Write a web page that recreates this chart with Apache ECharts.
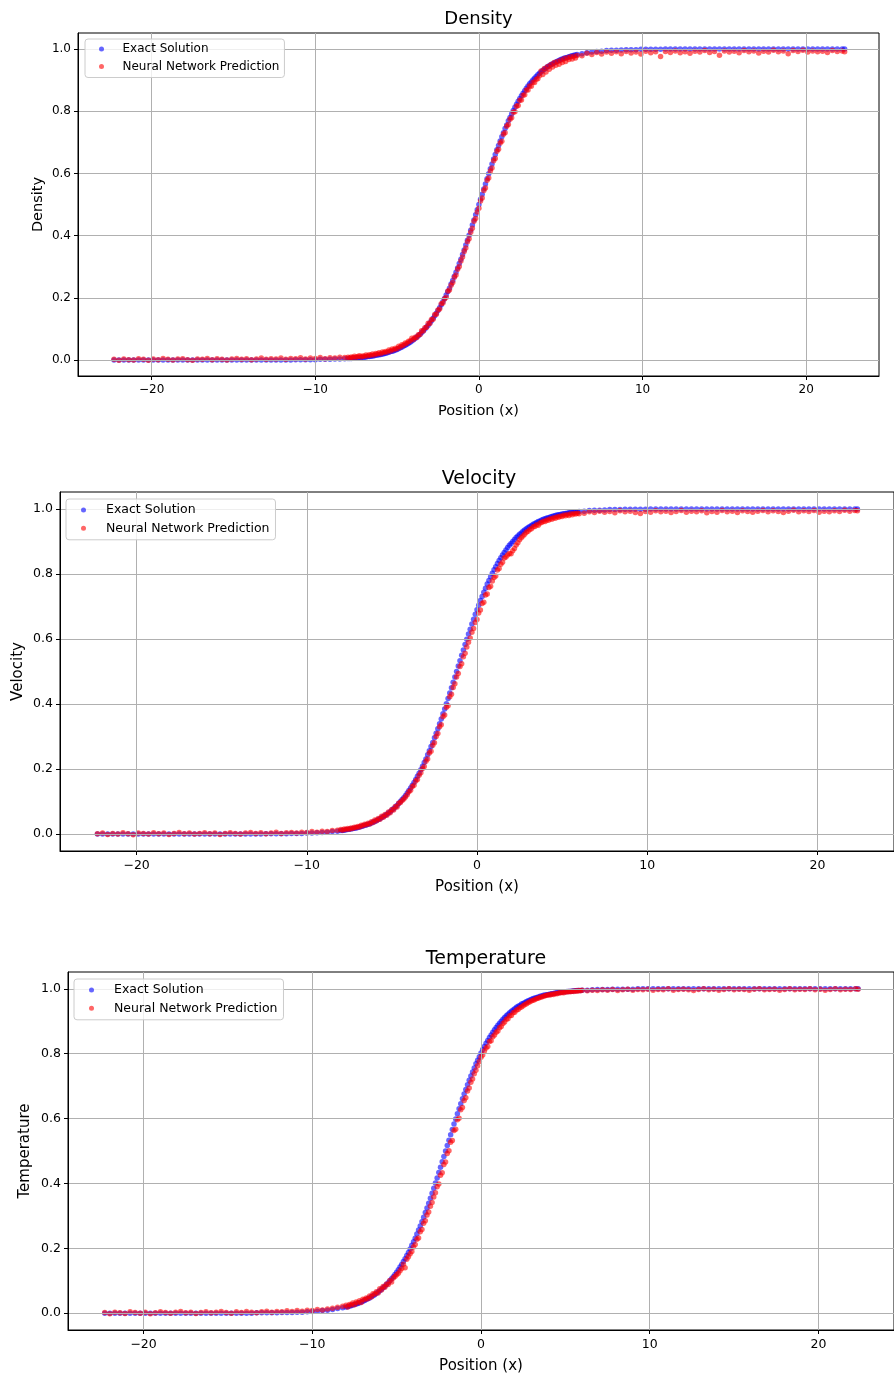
<!DOCTYPE html>
<html>
<head>
<meta charset="utf-8">
<script src="https://cdn.jsdelivr.net/npm/echarts@6.0.0/dist/echarts.min.js"></script>
<style>
html,body{margin:0;padding:0;background:#fff;}
#chart{width:894px;height:1375px;}
</style>
</head>
<body>
<div id="chart"></div>
<script>
// ---- data ----
const titles = ['Density', 'Velocity', 'Temperature'];
const seriesNames = ['Exact Solution', 'Neural Network Prediction'];
const xTicks = [-20, -10, 0, 10, 20];
const yTicks = [0, 0.2, 0.4, 0.6, 0.8, 1.0];

const positions = [
-22.3,-22.0,-21.7,-21.4,-21.1,-20.8,-20.5,-20.2,-19.9,-19.6,
-19.3,-19.0,-18.7,-18.4,-18.1,-17.8,-17.5,-17.2,-16.9,-16.6,
-16.3,-16.0,-15.7,-15.4,-15.1,-14.8,-14.5,-14.2,-13.9,-13.6,
-13.3,-13.0,-12.7,-12.4,-12.1,-11.8,-11.5,-11.2,-10.9,-10.6,
-10.3,-10.0,-9.7,-9.4,-9.1,-8.8,-8.5,-8.2,
-8.0,-7.9,-7.8,-7.7,-7.6,-7.5,-7.4,-7.3,-7.2,-7.1,
-7.0,-6.9,-6.8,-6.7,-6.6,-6.5,-6.4,-6.3,-6.2,-6.1,
-6.0,-5.9,-5.8,-5.7,-5.6,-5.5,-5.4,-5.3,-5.2,-5.1,
-5.0,-4.9,-4.8,-4.7,-4.6,-4.5,-4.4,-4.3,-4.2,-4.1,
-4.0,-3.9,-3.8,-3.7,-3.6,-3.5,-3.4,-3.3,-3.2,-3.1,
-3.0,-2.9,-2.8,-2.7,-2.6,-2.5,-2.4,-2.3,-2.2,-2.1,
-2.0,-1.9,-1.8,-1.7,-1.6,-1.5,-1.4,-1.3,-1.2,-1.1,
-1.0,-0.9,-0.8,-0.7,-0.6,-0.5,-0.4,-0.3,-0.2,-0.1,
0.0,0.1,0.2,0.3,0.4,0.5,0.6,0.7,0.8,0.9,
1.0,1.1,1.2,1.3,1.4,1.5,1.6,1.7,1.8,1.9,
2.0,2.1,2.2,2.3,2.4,2.5,2.6,2.7,2.8,2.9,
3.0,3.1,3.2,3.3,3.4,3.5,3.6,3.7,3.8,3.9,
4.0,4.1,4.2,4.3,4.4,4.5,4.6,4.7,4.8,4.9,
5.0,5.1,5.2,5.3,5.4,5.5,5.6,5.7,5.8,5.9,
6.0,
6.3,6.6,6.9,7.2,7.5,7.8,8.1,8.4,8.7,9.0,
9.3,9.6,9.9,10.2,10.5,10.8,11.1,11.4,11.7,12.0,
12.3,12.6,12.9,13.2,13.5,13.8,14.1,14.4,14.7,15.0,
15.3,15.6,15.9,16.2,16.5,16.8,17.1,17.4,17.7,18.0,
18.3,18.6,18.9,19.2,19.5,19.8,20.1,20.4,20.7,21.0,
21.3,21.6,21.9,22.2,22.35
];

const densityExact = [
0,0,0,0,0,0,0,0,0,0,
0,0,0,0,0,0,0,0,0,0,
0,0,0,0,0,0,0,0,0,0,
0,0,0,0,0,0,0,.001,.001,.001,
.001,.001,.002,.002,.002,.003,.003,.004,
.005,.005,.005,.006,.006,.007,.007,.008,.008,.009,
.009,.010,.011,.011,.012,.013,.014,.015,.016,.017,
.018,.019,.020,.022,.023,.025,.027,.028,.030,.032,
.034,.037,.039,.042,.045,.047,.051,.054,.057,.061,
.065,.069,.074,.078,.083,.088,.094,.100,.106,.112,
.119,.126,.134,.142,.150,.159,.168,.178,.187,.198,
.209,.220,.231,.244,.256,.269,.282,.296,.310,.324,
.339,.354,.370,.385,.401,.417,.434,.450,.467,.483,
.500,.517,.533,.550,.566,.583,.599,.615,.630,.646,
.661,.676,.690,.704,.718,.731,.744,.756,.769,.780,
.791,.802,.813,.822,.832,.841,.850,.858,.866,.874,
.881,.888,.894,.900,.906,.912,.917,.922,.926,.931,
.935,.939,.943,.946,.949,.953,.955,.958,.961,.963,
.966,.968,.970,.972,.973,.975,.977,.978,.980,.981,
.982,
.985,.988,.990,.992,.993,.995,.996,.996,.997,.998,
.998,.998,.999,.999,.999,.999,.999,1,1,1,
1,1,1,1,1,1,1,1,1,1,
1,1,1,1,1,1,1,1,1,1,
1,1,1,1,1,1,1,1,1,1,
1,1,1,1,1
];

const densityPredicted = [
.002,-.001,.003,.001,.000,.004,.002,-.001,.003,.001,
.005,.002,.000,.003,.004,.001,-.001,.003,.002,.005,
.001,.004,.002,.000,.003,.005,.002,.004,.001,.003,
.006,.002,.004,.003,.006,.002,.005,.004,.007,.003,
.006,.005,.008,.004,.007,.006,.009,.008,
.009,.006,.010,.008,.012,.009,.011,.014,.010,.013,
.012,.016,.013,.017,.015,.019,.016,.021,.019,.023,
.020,.026,.024,.027,.026,.032,.029,.035,.033,.038,
.036,.044,.042,.049,.047,.055,.054,.060,.061,.070,
.066,.073,.072,.081,.082,.094,.093,.104,.105,.118,
.117,.130,.131,.146,.147,.161,.164,.181,.183,.196,
.202,.221,.225,.240,.249,.266,.273,.292,.301,.318,
.331,.349,.360,.380,.390,.411,.424,.446,.455,.476,
.488,.511,.521,.545,.553,.578,.585,.608,.617,.641,
.648,.671,.678,.698,.703,.726,.731,.752,.757,.774,
.779,.797,.798,.816,.818,.835,.836,.851,.853,.868,
.868,.881,.880,.893,.892,.903,.904,.914,.929,.918,
.937,.926,.944,.935,.950,.942,.957,.948,.960,.951,
.964,.957,.969,.960,.972,.966,.975,.968,.977,.971,
.979,
.978,.986,.982,.989,.984,.990,.986,.991,.985,.992,
.987,.990,.984,.993,.988,.991,.976,.992,.989,.994,
.988,.991,.986,.993,.990,.995,.989,.992,.980,.994,
.990,.993,.988,.995,.991,.994,.987,.993,.990,.996,
.991,.994,.985,.995,.992,.996,.990,.994,.991,.993,
.989,.995,.992,.994,.991
];

const velocityExact = [
0,0,0,0,0,0,0,0,0,0,
0,0,0,0,0,0,0,0,0,0,
0,0,0,0,0,0,0,0,0,0,
0,0,0,.001,.001,.001,.001,.001,.002,.002,
.002,.003,.003,.004,.005,.006,.008,.009,
.011,.011,.012,.013,.014,.015,.016,.017,.018,.019,
.020,.022,.023,.025,.027,.028,.030,.032,.034,.037,
.039,.042,.045,.047,.051,.054,.057,.061,.065,.069,
.074,.078,.083,.088,.094,.100,.106,.112,.119,.126,
.134,.142,.150,.159,.168,.178,.187,.198,.209,.220,
.231,.244,.256,.269,.282,.296,.310,.324,.339,.354,
.370,.385,.401,.417,.434,.450,.467,.483,.500,.517,
.533,.550,.566,.583,.599,.615,.630,.646,.661,.676,
.690,.704,.718,.731,.744,.756,.769,.780,.791,.802,
.813,.822,.832,.841,.850,.858,.866,.874,.881,.888,
.894,.900,.906,.912,.917,.922,.926,.931,.935,.939,
.943,.946,.949,.953,.955,.958,.961,.963,.966,.968,
.970,.972,.973,.975,.977,.978,.980,.981,.982,.983,
.984,.985,.986,.987,.988,.989,.989,.990,.991,.991,
.992,
.993,.995,.996,.996,.997,.998,.998,.998,.999,.999,
.999,.999,.999,1,1,1,1,1,1,1,
1,1,1,1,1,1,1,1,1,1,
1,1,1,1,1,1,1,1,1,1,
1,1,1,1,1,1,1,1,1,1,
1,1,1,1,1
];

const velocityPredicted = [
.001,.003,-.001,.002,.000,.004,.001,-.002,.003,.002,
.000,.004,.001,.003,-.001,.002,.005,.001,.003,.000,
.002,.004,.001,.003,-.001,.002,.004,.002,.000,.003,
.005,.002,.004,.001,.003,.006,.002,.004,.005,.003,
.006,.005,.008,.006,.009,.008,.011,.012,
.014,.012,.016,.014,.017,.015,.019,.017,.021,.020,
.023,.022,.027,.026,.030,.029,.033,.031,.038,.036,
.043,.041,.048,.046,.055,.052,.060,.058,.068,.066,
.076,.074,.085,.083,.095,.097,.103,.108,.114,.121,
.130,.135,.146,.150,.163,.168,.181,.189,.202,.208,
.224,.231,.249,.255,.273,.281,.300,.309,.330,.336,
.361,.366,.390,.395,.422,.430,.451,.462,.483,.494,
.515,.524,.545,.556,.575,.590,.603,.621,.632,.651,
.660,.680,.689,.709,.713,.735,.738,.758,.762,.778,
.789,.794,.812,.817,.830,.836,.849,.852,.858,.863,
.862,.871,.878,.889,.896,.905,.911,.917,.922,.928,
.931,.937,.939,.945,.946,.951,.950,.957,.958,.962,
.961,.966,.965,.970,.968,.973,.971,.976,.974,.978,
.977,.981,.979,.983,.980,.985,.982,.986,.984,.987,
.985,
.987,.991,.989,.993,.990,.992,.988,.994,.991,.993,
.989,.986,.992,.990,.994,.991,.993,.989,.992,.995,
.990,.993,.991,.994,.988,.992,.990,.995,.991,.993,
.989,.994,.992,.990,.993,.995,.991,.994,.992,.989,
.993,.996,.991,.994,.992,.995,.990,.993,.991,.994,
.992,.996,.993,.995,.994
];

const temperatureExact = [
0,0,0,0,0,0,0,0,0,0,
0,0,0,0,0,0,0,0,0,0,
0,0,0,0,0,0,0,0,0,0,
.001,.001,.001,.001,.001,.002,.002,.002,.003,.003,
.004,.005,.006,.008,.009,.011,.014,.017,
.019,.020,.022,.023,.025,.027,.028,.030,.032,.034,
.037,.039,.042,.045,.047,.051,.054,.057,.061,.065,
.069,.074,.078,.083,.088,.094,.100,.106,.112,.119,
.126,.134,.142,.150,.159,.168,.178,.187,.198,.209,
.220,.231,.244,.256,.269,.282,.296,.310,.324,.339,
.354,.370,.385,.401,.417,.434,.450,.467,.483,.500,
.517,.533,.550,.566,.583,.599,.615,.630,.646,.661,
.676,.690,.704,.718,.731,.744,.756,.769,.780,.791,
.802,.813,.822,.832,.841,.850,.858,.866,.874,.881,
.888,.894,.900,.906,.912,.917,.922,.926,.931,.935,
.939,.943,.946,.949,.953,.955,.958,.961,.963,.966,
.968,.970,.972,.973,.975,.977,.978,.980,.981,.982,
.983,.984,.985,.986,.987,.988,.989,.989,.990,.991,
.991,.992,.992,.993,.993,.994,.994,.995,.995,.995,
.996,
.996,.997,.998,.998,.998,.999,.999,.999,.999,.999,
1,1,1,1,1,1,1,1,1,1,
1,1,1,1,1,1,1,1,1,1,
1,1,1,1,1,1,1,1,1,1,
1,1,1,1,1,1,1,1,1,1,
1,1,1,1,1
];

const temperaturePredicted = [
.002,-.002,.003,.001,-.001,.004,.002,.000,.003,-.002,
.001,.004,.002,.000,.003,.005,.001,.003,-.001,.002,
.004,.001,.003,.005,.002,.000,.004,.002,.005,.003,
.001,.004,.006,.003,.005,.004,.007,.005,.008,.006,
.009,.008,.011,.010,.013,.015,.018,.021,
.024,.019,.027,.025,.031,.026,.034,.032,.038,.033,
.043,.041,.047,.044,.053,.050,.060,.058,.066,.062,
.075,.071,.082,.080,.090,.088,.101,.096,.108,.113,
.118,.123,.131,.138,.151,.140,.166,.174,.183,.190,
.204,.212,.228,.232,.251,.258,.277,.285,.303,.312,
.330,.341,.358,.371,.390,.398,.425,.433,.458,.466,
.492,.501,.527,.532,.563,.567,.596,.601,.627,.634,
.656,.664,.685,.694,.712,.722,.738,.749,.763,.776,
.789,.796,.808,.818,.822,.838,.840,.852,.858,.866,
.870,.880,.884,.893,.898,.906,.908,.917,.918,.926,
.928,.935,.936,.942,.944,.948,.952,.954,.958,.960,
.963,.965,.967,.970,.971,.974,.975,.977,.979,.980,
.982,.981,.984,.983,.986,.985,.987,.988,.989,.988,
.991,.990,.992,.991,.993,.992,.994,.993,.995,.994,
.996,
.994,.996,.995,.997,.996,.998,.995,.997,.999,.996,
.998,.997,.999,.996,.998,.997,1.0,.996,.998,.999,
.997,.995,.998,1.0,.997,.999,.996,.998,1.0,.997,
.999,.998,.996,.999,1.0,.997,.998,.999,.996,.998,
1.0,.997,.999,.998,1.0,.997,.999,.996,.998,1.0,
.997,.999,.998,1.0,.999
];

// ---- layout ----
const FONT = 'DejaVu Sans';
const panels = [
  {grid:{left:78, top:33, width:801, height:343}, xr:[-24.5, 24.45], yr:[-0.0515, 1.0515],
   fs:12, nameFs:14.5, titleFs:18, titleX:478.5, titleY:19, xGap:27.5, yGap:32, labelMargin:8,
   legend:{left:85, top:39, itemWidth:32, lh:14, gap:3.5, pad:[3,5,4,14]},
   exact:densityExact, pred:densityPredicted},
  {grid:{left:60, top:492, width:838, height:359}, xr:[-24.5, 24.5], yr:[-0.052, 1.052],
   fs:12.5, nameFs:15, titleFs:19, titleX:479, titleY:479, xGap:28.5, yGap:34.5, labelMargin:8.5,
   legend:{left:66, top:499, itemWidth:35, lh:15, gap:3.3, pad:[3.5,6,4,15]},
   exact:velocityExact, pred:velocityPredicted},
  {grid:{left:68, top:972, width:836, height:358}, xr:[-24.48, 24.48], yr:[-0.052, 1.052],
   fs:12.5, nameFs:15, titleFs:19, titleX:486, titleY:959, xGap:29, yGap:35.5, labelMargin:8.5,
   legend:{left:74, top:979, itemWidth:35, lh:15, gap:3.3, pad:[3.5,6,4,15]},
   exact:temperatureExact, pred:temperaturePredicted}
];

const fmtX = v => (v < 0 ? '\u2212' + Math.abs(v) : String(v));
const fmtY = v => Number(v).toFixed(1);

const option = {
  animation: false,
  backgroundColor: '#fff',
  textStyle: {fontFamily: FONT},
  grid: [], xAxis: [], yAxis: [], series: [], legend: [], graphic: []
};

panels.forEach((p, i) => {
  option.grid.push(Object.assign({show:true, borderColor:'#000', borderWidth:1, backgroundColor:'transparent'}, p.grid));
  option.xAxis.push({
    type:'value', gridIndex:i, min:p.xr[0], max:p.xr[1], z:3,
    name:'Position (x)', nameLocation:'middle', nameGap:p.xGap, nameMoveOverlap:false,
    nameTextStyle:{fontSize:p.nameFs, color:'#000', fontFamily:FONT},
    axisLine:{show:true, onZero:false, lineStyle:{color:'#000', width:1}},
    axisTick:{show:true, customValues:xTicks, length:4, lineStyle:{color:'#000', width:1}},
    axisLabel:{customValues:xTicks, formatter:fmtX, fontSize:p.fs, color:'#000', margin:p.labelMargin, fontFamily:FONT},
    splitLine:{show:true, lineStyle:{color:'#b0b0b0', width:1}}
  });
  option.yAxis.push({
    type:'value', gridIndex:i, min:p.yr[0], max:p.yr[1], z:3,
    name:titles[i], nameLocation:'middle', nameGap:p.yGap, nameMoveOverlap:false,
    nameTextStyle:{fontSize:p.nameFs, color:'#000', fontFamily:FONT},
    axisLine:{show:true, onZero:false, lineStyle:{color:'#000', width:1}},
    axisTick:{show:true, customValues:yTicks, length:4, lineStyle:{color:'#000', width:1}},
    axisLabel:{customValues:yTicks, formatter:fmtY, fontSize:p.fs, color:'#000', margin:7, fontFamily:FONT},
    splitLine:{show:true, lineStyle:{color:'#b0b0b0', width:1}}
  });
  option.series.push({
    name:seriesNames[0], type:'scatter', xAxisIndex:i, yAxisIndex:i,
    symbol:'circle', symbolSize:5.5,
    itemStyle:{color:'rgba(0,0,255,0.75)'},
    data: positions.map((x, k) => [x, p.exact[k]])
  });
  option.series.push({
    name:seriesNames[1], type:'scatter', xAxisIndex:i, yAxisIndex:i,
    symbol:'circle', symbolSize:5.5,
    itemStyle:{color:'rgba(255,0,0,0.75)'},
    data: positions.map((x, k) => [x, p.pred[k]])
  });
  option.legend.push({
    data: seriesNames, orient:'vertical', left:p.legend.left, top:p.legend.top,
    itemWidth:p.legend.itemWidth, itemHeight:5, itemGap:p.legend.gap, icon:'circle',
    padding:p.legend.pad, backgroundColor:'rgba(255,255,255,0.8)',
    borderColor:'#cccccc', borderWidth:1, borderRadius:3,
    textStyle:{fontSize:p.fs, lineHeight:p.legend.lh, color:'#000', fontFamily:FONT},
    selectedMode:false
  });
  option.graphic.push({
    type:'text', x:p.titleX, y:p.titleY, z:10,
    style:{text:titles[i], fontSize:p.titleFs, fontFamily:FONT, fill:'#000', align:'center', verticalAlign:'middle'}
  });
});

const chart = echarts.init(document.getElementById('chart'), null, {renderer:'canvas'});
chart.setOption(option);
</script>
</body>
</html>
